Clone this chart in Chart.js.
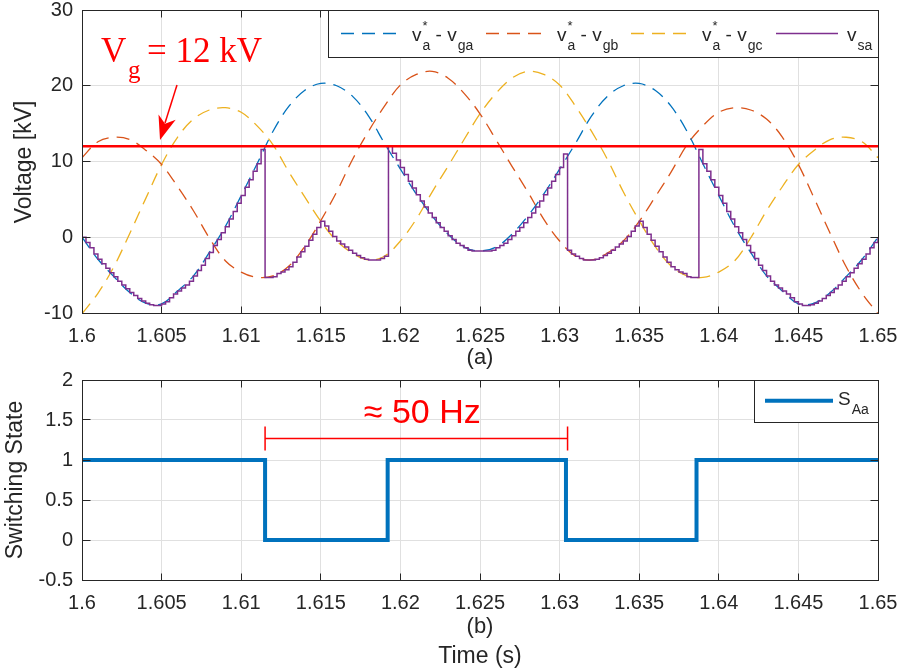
<!DOCTYPE html>
<html>
<head>
<meta charset="utf-8">
<script src="https://cdn.jsdelivr.net/npm/chart.js@4.4.1/dist/chart.umd.min.js"></script>
<style>
  body { margin: 0; background: #fff; width: 903px; height: 672px; overflow: hidden; position: relative; }
  canvas { position: absolute; left: 0; }
  #topChart { top: 0; }
  #botChart { top: 372px; }
</style>
</head>
<body>
<canvas id="topChart" width="903" height="372"></canvas>
<canvas id="botChart" width="903" height="300"></canvas>
<script>
// time axis (s), 1 ms grid for the reference curves
const tMs = [1.6, 1.601, 1.602, 1.603, 1.604, 1.605, 1.606, 1.607, 1.608, 1.609,
  1.61, 1.611, 1.612, 1.613, 1.614, 1.615, 1.616, 1.617, 1.618, 1.619,
  1.62, 1.621, 1.622, 1.623, 1.624, 1.625, 1.626, 1.627, 1.628, 1.629,
  1.63, 1.631, 1.632, 1.633, 1.634, 1.635, 1.636, 1.637, 1.638, 1.639,
  1.64, 1.641, 1.642, 1.643, 1.644, 1.645, 1.646, 1.647, 1.648, 1.649, 1.65];

// v_a* - v_ga [kV]
const vga = [0, -2.9, -5.2, -7.3, -8.7, -8.8, -7.1, -5.1, -2.0, 1.4,
  5.5, 9.7, 14.0, 17.3, 19.4, 20.3, 20.0, 18.6, 16.0, 12.4,
  9.0, 5.7, 2.8, 0.4, -1.3, -1.8, -1.3, 0.4, 2.8, 5.7,
  9.0, 12.4, 16.0, 18.6, 20.0, 20.3, 19.4, 17.3, 14.0, 9.7,
  5.5, 1.4, -2.0, -5.1, -7.1, -8.8, -8.7, -7.3, -5.2, -2.9, 0];

// v_a* - v_gb [kV]
const vgb = [10.5, 12.6, 13.2, 12.9, 11.5, 9.6, 6.7, 3.5, -0.1, -3.1,
  -4.6, -5.3, -5.1, -3.8, -1.2, 2.2, 6.0, 10.3, 14.0, 17.3,
  20.1, 21.5, 21.9, 21.0, 19.0, 16.3, 12.9, 9.4, 6.0, 2.4,
  -0.5, -2.5, -3.0, -2.1, -0.5, 2.1, 5.3, 8.6, 12.2, 14.7,
  16.5, 17.1, 16.8, 15.6, 13.2, 9.6, 5.1, 0.5, -3.9, -7.4, -10.1];

// v_a* - v_gc [kV]
const vgc = [-10.1, -7.4, -3.9, 0.5, 5.1, 9.6, 13.2, 15.6, 16.8, 17.1,
  16.5, 14.7, 12.2, 8.6, 5.3, 2.1, -0.5, -2.1, -3.0, -2.5,
  -0.5, 2.4, 6.0, 9.4, 12.9, 16.3, 19.0, 21.0, 21.9, 21.5,
  20.1, 17.3, 14.0, 10.3, 6.0, 2.2, -1.2, -3.8, -5.1, -5.3,
  -4.6, -3.1, -0.1, 3.5, 6.7, 9.6, 11.5, 12.9, 13.2, 12.6, 10.5];

// v_sa [kV], held samples every 0.25 ms from 1.6 s
const vsaStart = 1.6;
const vsaStep = 0.00025;
const vsa = [0, -0.7, -1.4, -2.2, -2.9, -3.5, -4.1, -4.7, -5.2, -5.8,
  -6.3, -6.8, -7.3, -7.7, -8.1, -8.4, -8.7, -8.9, -9.0, -9.0,
  -8.8, -8.5, -8.0, -7.5, -7.1, -6.7, -6.3, -5.8, -5.1, -4.4,
  -3.7, -2.8, -2.0, -1.1, -0.3, 0.6, 1.4, 2.4, 3.4, 4.5,
  5.5, 6.6, 7.6, 8.7, 9.7, 11.6, -5.3, -5.3, -5.2, -4.8,
  -4.6, -4.3, -3.9, -3.3, -2.6, -1.9, -1.2, -0.4, 0.4, 1.3,
  2.1, 1.5, 0.8, 0.1, -0.5, -0.9, -1.3, -1.7, -2.1, -2.4,
  -2.7, -2.9, -3.0, -3.0, -3.0, -2.8, -2.5, 12.0, 11.1, 10.2,
  9.2, 8.3, 7.4, 6.5, 5.6, 4.8, 4.0, 3.2, 2.6, 1.9,
  1.3, 0.8, 0.2, -0.3, -0.8, -1.1, -1.4, -1.7, -1.8, -1.8,
  -1.8, -1.8, -1.8, -1.7, -1.4, -1.1, -0.8, -0.3, 0.2, 0.8,
  1.3, 1.9, 2.6, 3.2, 4.0, 4.8, 5.6, 6.5, 7.4, 8.3,
  9.2, 11.0, -1.7, -2.2, -2.5, -2.8, -3.0, -3.0, -3.0, -2.9,
  -2.7, -2.4, -2.1, -1.7, -1.3, -0.9, -0.5, 0.1, 0.8, 1.5,
  2.1, 1.3, 0.4, -0.4, -1.2, -1.9, -2.6, -3.3, -3.9, -4.3,
  -4.6, -4.8, -5.2, -5.3, -5.3, 11.6, 9.7, 8.7, 7.6, 6.6,
  5.5, 4.5, 3.4, 2.4, 1.4, 0.6, -0.3, -1.1, -2.0, -2.8,
  -3.7, -4.4, -5.1, -5.8, -6.3, -6.7, -7.1, -7.5, -8.0, -8.5,
  -8.8, -9.0, -9.0, -8.9, -8.7, -8.4, -8.1, -7.7, -7.3, -6.8,
  -6.3, -5.8, -5.2, -4.7, -4.1, -3.5, -2.9, -2.2, -1.4, -0.7, 0];

const vg = 12; // kV

// switching state S_Aa (held until next time)
const sTimes = [1.6, 1.6115, 1.6192, 1.6304, 1.6386, 1.65];
const sVals = [1, 0, 1, 0, 1, 1];

// "≈ 50 Hz" bracket ends (s)
const bracketT = [1.6115, 1.6305];

const legendTop = [
  [{t: 'v'}, {sub: 'a', sup: '*'}, {t: ' - v'}, {sub: 'ga'}],
  [{t: 'v'}, {sub: 'a', sup: '*'}, {t: ' - v'}, {sub: 'gb'}],
  [{t: 'v'}, {sub: 'a', sup: '*'}, {t: ' - v'}, {sub: 'gc'}],
  [{t: 'v'}, {sub: 'sa'}]
];

const INK = '#262626';
const GRID = '#e0e0e0';
const SANS = '"Liberation Sans", Arial, sans-serif';
const SERIF = '"Liberation Serif", "Times New Roman", serif';
const C_BLUE = '#0072BD', C_ORANGE = '#D95319', C_YELLOW = '#EDB120', C_PURPLE = '#7E2F8E';

const pts = (xs, ys) => xs.map((x, i) => ({x: x, y: ys[i]}));
const crisp = p => Math.round(p - 0.5) + 0.5;

function richText(ctx, x, y, parts, size, subSize) {
  let cx = x;
  parts.forEach(p => {
    if (p.t) {
      ctx.font = size + 'px ' + SANS;
      ctx.fillText(p.t, cx, y);
      cx += ctx.measureText(p.t).width;
    }
    let w = 0;
    if (p.sub) {
      ctx.font = subSize + 'px ' + SANS;
      ctx.fillText(p.sub, cx + 1, y + 9);
      w = ctx.measureText(p.sub).width + 1;
    }
    if (p.sup) {
      ctx.font = '13px ' + SANS;
      ctx.fillText(p.sup, cx + 1, y - 11);
      w = Math.max(w, ctx.measureText(p.sup).width + 1);
    }
    cx += w;
  });
}

function vText(ctx, text, x, y, size) {
  ctx.save();
  ctx.translate(x, y);
  ctx.rotate(-Math.PI / 2);
  ctx.font = size + 'px ' + SANS;
  ctx.textAlign = 'center';
  ctx.textBaseline = 'middle';
  ctx.fillStyle = INK;
  ctx.fillText(text, 0, 0);
  ctx.restore();
}

function cText(ctx, text, x, y, size) {
  ctx.font = size + 'px ' + SANS;
  ctx.textAlign = 'center';
  ctx.textBaseline = 'middle';
  ctx.fillStyle = INK;
  ctx.fillText(text, x, y);
}

// box + inward tick marks, like the matlab axes
const framePlugin = {
  id: 'frame',
  afterDatasetsDraw(chart) {
    const {ctx, chartArea: a, scales: {x, y}} = chart;
    const L = crisp(a.left), R = crisp(a.right), T = crisp(a.top), B = crisp(a.bottom);
    ctx.save();
    ctx.strokeStyle = INK;
    ctx.lineWidth = 1;
    ctx.beginPath();
    x.ticks.forEach(t => {
      const px = crisp(x.getPixelForValue(t.value));
      ctx.moveTo(px, B); ctx.lineTo(px, B - 7);
      ctx.moveTo(px, T); ctx.lineTo(px, T + 7);
    });
    y.ticks.forEach(t => {
      const py = crisp(y.getPixelForValue(t.value));
      ctx.moveTo(L, py); ctx.lineTo(L + 8, py);
      ctx.moveTo(R, py); ctx.lineTo(R - 8, py);
    });
    ctx.stroke();
    ctx.strokeRect(L, T, R - L, B - T);
    ctx.restore();
  }
};

const topDecor = {
  id: 'topDecor',
  afterDraw(chart) {
    const ctx = chart.ctx;
    ctx.save();
    // legend box
    ctx.fillStyle = '#fff';
    ctx.fillRect(328.5, 10.5, 550, 47);
    ctx.strokeStyle = INK;
    ctx.lineWidth = 1;
    ctx.strokeRect(328.5, 10.5, 550, 47);
    const starts = [341, 486, 631, 776];
    chart.data.datasets.slice(0, 4).forEach((ds, i) => {
      const s = starts[i];
      ctx.strokeStyle = ds.borderColor;
      ctx.lineWidth = ds.borderWidth;
      ctx.setLineDash(ds.borderDash || []);
      ctx.beginPath();
      ctx.moveTo(s, 33.5);
      ctx.lineTo(s + 62, 33.5);
      ctx.stroke();
      ctx.setLineDash([]);
      ctx.fillStyle = INK;
      ctx.textAlign = 'left';
      ctx.textBaseline = 'alphabetic';
      richText(ctx, s + 71, 40.5, legendTop[i], 19, 14);
    });

    // V_g = 12 kV
    ctx.fillStyle = '#ff0000';
    ctx.textAlign = 'left';
    ctx.textBaseline = 'alphabetic';
    ctx.font = '35px ' + SERIF;
    ctx.fillText('V', 101, 62);
    ctx.font = '25px ' + SERIF;
    ctx.fillText('g', 128, 78);
    ctx.font = '35px ' + SERIF;
    ctx.fillText('= 12 kV', 147, 62);

    // arrow
    ctx.strokeStyle = '#ff0000';
    ctx.lineWidth = 1.5;
    ctx.beginPath();
    ctx.moveTo(177, 85);
    ctx.lineTo(165, 123);
    ctx.stroke();
    ctx.beginPath();
    ctx.moveTo(160, 140);
    ctx.lineTo(158.5, 114.4);
    ctx.lineTo(165, 123.8);
    ctx.lineTo(175.7, 119.8);
    ctx.closePath();
    ctx.fill();

    // axis titles
    vText(ctx, 'Voltage [kV]', 25, 162, 23);
    cText(ctx, '(a)', 480, 358, 22);
    ctx.restore();
  }
};

const botDecor = {
  id: 'botDecor',
  afterDraw(chart) {
    const {ctx, scales: {x, y}} = chart;
    ctx.save();
    // bracket
    const x0 = x.getPixelForValue(bracketT[0]);
    const x1 = x.getPixelForValue(bracketT[1]);
    const yb = y.getPixelForValue(1.27);
    const h = 12;
    ctx.strokeStyle = '#ff0000';
    ctx.lineWidth = 1.5;
    ctx.beginPath();
    ctx.moveTo(x0, yb); ctx.lineTo(x1, yb);
    ctx.moveTo(x0, yb - h); ctx.lineTo(x0, yb + h);
    ctx.moveTo(x1, yb - h); ctx.lineTo(x1, yb + h);
    ctx.stroke();
    ctx.fillStyle = '#ff0000';
    ctx.font = '34px ' + SANS;
    ctx.textAlign = 'center';
    ctx.textBaseline = 'alphabetic';
    ctx.fillText('\u2248 50 Hz', (x0 + x1) / 2 + 6, y.getPixelForValue(1.46));

    // legend
    ctx.fillStyle = '#fff';
    ctx.fillRect(754.5, 8.5, 124, 42);
    ctx.strokeStyle = INK;
    ctx.lineWidth = 1;
    ctx.strokeRect(754.5, 8.5, 124, 42);
    ctx.strokeStyle = C_BLUE;
    ctx.lineWidth = 4;
    ctx.beginPath();
    ctx.moveTo(765, 28.7);
    ctx.lineTo(833, 28.7);
    ctx.stroke();
    ctx.fillStyle = INK;
    ctx.textAlign = 'left';
    richText(ctx, 838, 33, [{t: 'S'}, {sub: 'Aa'}], 19, 14);

    vText(ctx, 'Switching State', 16, 108, 23);
    cText(ctx, '(b)', 480, 255, 22);
    cText(ctx, 'Time (s)', 480, 285, 23);
    ctx.restore();
  }
};

const tickFont = {family: SANS, size: 20};

function xAxis(h) {
  return {
    type: 'linear', min: 1.6, max: 1.65,
    ticks: {stepSize: 0.005, autoSkip: false, maxRotation: 0, padding: 11, color: INK, font: tickFont,
      callback: v => String(+v.toFixed(3))},
    grid: {color: GRID, drawTicks: false},
    border: {display: false},
    afterFit: s => { s.height = h; s.paddingLeft = 0; s.paddingRight = 0; }
  };
}

function yAxis(min, max, step) {
  return {
    type: 'linear', min: min, max: max,
    ticks: {stepSize: step, padding: 9, color: INK, font: tickFont,
      callback: v => String(+v.toFixed(2))},
    grid: {color: GRID, drawTicks: false},
    border: {display: false},
    afterFit: s => { s.width = 82; s.paddingTop = 0; s.paddingBottom = 0; }
  };
}

const dashed = (data, color) => ({
  data: data, borderColor: color, borderWidth: 1.3, borderDash: [13, 8],
  pointRadius: 0, tension: 0.35, fill: false, order: 2
});

new Chart(document.getElementById('topChart'), {
  type: 'line',
  data: {
    datasets: [
      dashed(pts(tMs, vga), C_BLUE),
      dashed(pts(tMs, vgb), C_ORANGE),
      dashed(pts(tMs, vgc), C_YELLOW),
      {
        data: vsa.map((v, i) => ({x: vsaStart + i * vsaStep, y: v})),
        borderColor: C_PURPLE, borderWidth: 1.5, pointRadius: 0, stepped: true, order: -1
      },
      {
        data: [{x: 1.6, y: vg}, {x: 1.65, y: vg}],
        borderColor: '#ff0000', borderWidth: 2.5, pointRadius: 0, order: -2
      }
    ]
  },
  options: {
    responsive: false,
    animation: false,
    devicePixelRatio: 1,
    layout: {padding: {left: 0, right: 25, top: 10, bottom: 0}},
    plugins: {legend: {display: false}, tooltip: {enabled: false}},
    scales: {x: xAxis(59), y: yAxis(-10, 30, 10)}
  },
  plugins: [framePlugin, topDecor]
});

new Chart(document.getElementById('botChart'), {
  type: 'line',
  data: {
    datasets: [{
      data: pts(sTimes, sVals),
      borderColor: C_BLUE, borderWidth: 4, pointRadius: 0, stepped: true,
      borderJoinStyle: 'miter', borderCapStyle: 'butt'
    }]
  },
  options: {
    responsive: false,
    animation: false,
    devicePixelRatio: 1,
    layout: {padding: {left: 0, right: 25, top: 8, bottom: 0}},
    plugins: {legend: {display: false}, tooltip: {enabled: false}},
    scales: {x: xAxis(92), y: yAxis(-0.5, 2, 0.5)}
  },
  plugins: [framePlugin, botDecor]
});
</script>
</body>
</html>
